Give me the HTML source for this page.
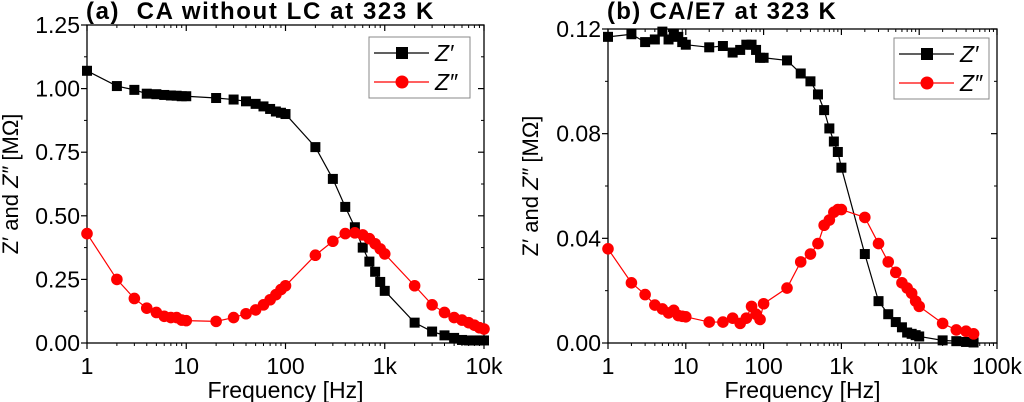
<!DOCTYPE html>
<html><head><meta charset="utf-8"><style>body{margin:0;background:#fff}svg{display:block;font-family:"Liberation Sans",sans-serif}</style></head>
<body><svg id="s" width="1024" height="402" xmlns="http://www.w3.org/2000/svg"></svg>
<script>
const S=document.getElementById('s');let h='';
function panel(o){
 const {x0,x1,y0,y1,dec,ymax,ystep,fmt}=o;
 const X=f=>x0+Math.log10(f)*(x1-x0)/dec, Y=v=>y1-(v/ymax)*(y1-y0);
 h+=`<rect x="${x0}" y="${y0}" width="${x1-x0}" height="${y1-y0}" fill="none" stroke="#000" stroke-width="1.3"/>`;
 for(let d=0;d<=dec;d++){const x=x0+d*(x1-x0)/dec;
  h+=`<line x1="${x}" y1="${y1}" x2="${x}" y2="${y1+6}" stroke="#000" stroke-width="1.2"/><line x1="${x}" y1="${y0}" x2="${x}" y2="${y0+6}" stroke="#000" stroke-width="1.2"/>`;
  const lb=['1','10','100','1k','10k','100k'][d];
  h+=`<text x="${x}" y="${y1+31}" font-size="23" text-anchor="middle">${lb}</text>`;
  if(d<dec)for(let m=2;m<10;m++){const xm=x+Math.log10(m)*(x1-x0)/dec;
   h+=`<line x1="${xm}" y1="${y1}" x2="${xm}" y2="${y1+3}" stroke="#000"/><line x1="${xm}" y1="${y0}" x2="${xm}" y2="${y0+3}" stroke="#000"/>`;}
 }
 for(let v=0;v<=ymax+1e-9;v+=ystep){const y=Y(v);
  h+=`<line x1="${x0-6}" y1="${y}" x2="${x0}" y2="${y}" stroke="#000" stroke-width="1.2"/><line x1="${x1-6}" y1="${y}" x2="${x1}" y2="${y}" stroke="#000" stroke-width="1.2"/>`;
  h+=`<text x="${x0-7}" y="${y+8}" font-size="23" text-anchor="end">${fmt(v)}</text>`;
  const ym=Y(v+ystep/2); if(v+ystep/2<ymax)h+=`<line x1="${x0-3}" y1="${ym}" x2="${x0}" y2="${ym}" stroke="#000"/><line x1="${x1-3}" y1="${ym}" x2="${x1}" y2="${ym}" stroke="#000"/>`;
 }
 h+=`<text x="${(x0+x1)/2}" y="${y1+55}" font-size="23" text-anchor="middle">Frequency [Hz]</text>`;
 h+=`<text transform="translate(${o.ylx},${(y0+y1)/2}) rotate(-90)" font-size="22" text-anchor="middle">Z′ and <tspan font-style="italic">Z″</tspan> [MΩ]</text>`;
 h+=`<text x="${o.tx}" y="19" font-size="24" font-weight="bold" style="letter-spacing:${o.ls}px">${o.title}</text>`;
 const line=(d,c)=>{h+=`<polyline fill="none" stroke="${c}" stroke-width="1.2" points="${d.map(p=>X(p[0])+','+Y(p[1])).join(' ')}"/>`;};
 line(o.zr,'#000');line(o.zi,'#f00');
 o.zr.forEach(p=>h+=`<rect x="${X(p[0])-5}" y="${Y(p[1])-5}" width="10" height="10" fill="#000"/>`);
 o.zi.forEach(p=>h+=`<circle cx="${X(p[0])}" cy="${Y(p[1])}" r="5.8" fill="#f00"/>`);
 const L=o.leg;
 h+=`<rect x="${L[0]}" y="${L[1]}" width="${L[2]}" height="61" fill="#fff" stroke="#888"/>`;
 h+=`<line x1="${L[0]+5}" y1="${L[1]+16}" x2="${L[0]+60}" y2="${L[1]+16}" stroke="#000" stroke-width="1.2"/><rect x="${L[0]+27}" y="${L[1]+10}" width="12" height="12"/>`;
 h+=`<line x1="${L[0]+5}" y1="${L[1]+45}" x2="${L[0]+60}" y2="${L[1]+45}" stroke="#f00" stroke-width="1.2"/><circle cx="${L[0]+33}" cy="${L[1]+45}" r="6.5" fill="#f00"/>`;
 h+=`<text x="${L[0]+66}" y="${L[1]+24}" font-size="23" font-style="italic">Z′</text><text x="${L[0]+66}" y="${L[1]+53}" font-size="23" font-style="italic">Z″</text>`;
}
const F=[1,2,3,4,5,6,7,8,9,10,20,30,40,50,60,70,80,90,100,200,300,400,500,600,700,800,900,1000,2000,3000,4000,5000,6000,7000,8000,9000,10000,20000,30000,40000,50000];
const z=(a)=>a.map((v,i)=>[F[i],v]);
panel({x0:87,x1:484,y0:25,y1:343,dec:4,ymax:1.25,ystep:0.25,fmt:v=>v.toFixed(2),ylx:18,tx:86,ls:1.6,title:"(a)&#160;&#160;CA without LC at 323 K",leg:[369,37,101],
zr:z([1.07,1.01,.995,.98,.978,.975,.973,.972,.97,.97,.963,.957,.95,.94,.93,.92,.91,.905,.9,.77,.645,.535,.455,.375,.32,.28,.24,.205,.08,.045,.03,.02,.012,.01,.01,.01,.01]),
zi:z([.43,.25,.175,.137,.12,.105,.1,.1,.09,.088,.085,.1,.115,.13,.15,.17,.19,.21,.225,.345,.4,.43,.433,.425,.41,.39,.37,.35,.225,.15,.12,.1,.09,.08,.07,.06,.055])});
panel({x0:608,x1:997,y0:29,y1:343,dec:5,ymax:0.12,ystep:0.04,fmt:v=>v.toFixed(2),ylx:538,tx:607,ls:1.3,title:"(b) CA/E7 at 323 K",leg:[894,38,95],
zr:z([.117,.118,.115,.116,.119,.116,.118,.117,.115,.114,.113,.1135,.111,.112,.114,.114,.112,.109,.109,.108,.103,.1,.095,.089,.082,.077,.073,.067,.034,.016,.011,.008,.006,.004,.0035,.003,.0025,.001,.0007,.0004,.0002]),
zi:z([.036,.023,.0185,.0145,.013,.0115,.0125,.0105,.0102,.01,.008,.008,.0095,.0075,.0095,.014,.011,.009,.015,.021,.031,.034,.038,.045,.047,.05,.051,.051,.048,.038,.031,.027,.023,.021,.019,.016,.014,.0075,.005,.0045,.0035])});
S.innerHTML=h;
</script></body></html>
